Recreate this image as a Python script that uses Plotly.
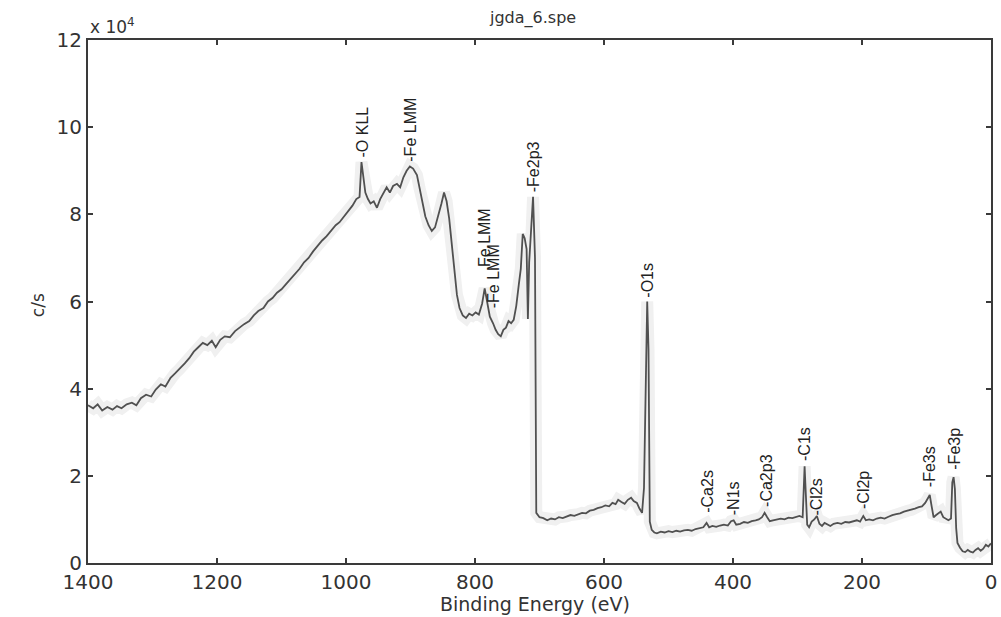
import plotly.graph_objects as go

# Binding energy (eV) and intensity (units of 1e4 c/s)
energy = [1400, 1392, 1385, 1378, 1370, 1362, 1355, 1348, 1340, 1332, 1325, 1318, 1310, 1302, 1295,
          1287, 1280, 1272, 1265, 1258, 1250, 1243, 1236, 1229, 1222, 1215, 1208, 1202, 1195, 1188,
          1180, 1172, 1165, 1158, 1150, 1143, 1136, 1128, 1121, 1114, 1107, 1100, 1093, 1086, 1079,
          1072, 1065, 1058, 1051, 1044, 1037, 1030, 1023, 1016, 1010, 1003, 996, 990, 984, 979,
          976, 973, 970, 966, 962, 957, 952, 947, 942, 937, 932, 927, 921, 916, 911,
          906, 901, 896, 890, 886, 881, 877, 872, 867, 862, 857, 852, 848, 844, 840,
          836, 832, 828, 824, 819, 814, 809, 804, 799, 794, 789, 785, 781, 777, 772,
          768, 764, 760, 756, 752, 748, 744, 740, 736, 732, 729, 726, 723, 720, 718,
          716, 713, 710, 707, 705, 700, 694, 688, 682, 676, 670, 664, 658, 652, 646,
          640, 634, 628, 622, 616, 610, 604, 598, 592, 587, 582, 578, 573, 568, 563,
          558, 554, 549, 545, 541, 538, 533, 531, 529, 526, 522, 518, 512, 506, 500,
          494, 488, 482, 476, 470, 464, 458, 452, 446, 441, 437, 432, 426, 420, 414,
          408, 403, 399, 395, 389, 383, 377, 371, 365, 360, 355, 351, 347, 343, 338,
          332, 326, 320, 314, 308, 302, 297, 292, 289, 287, 285, 282, 278, 274, 270,
          266, 262, 258, 254, 249, 244, 238, 232, 226, 220, 214, 208, 203, 198, 194,
          189, 183, 177, 171, 165, 159, 153, 147, 141, 135, 129, 123, 118, 112, 107,
          102, 98, 95, 92, 89, 85, 81, 78, 74, 70, 66, 62, 60, 58, 56,
          54, 52, 48, 44, 40, 36, 32, 28, 24, 20, 16, 12, 8, 4, 0]

counts_1e4 = [3.62, 3.55, 3.64, 3.50, 3.58, 3.52, 3.60, 3.55, 3.64, 3.68, 3.62, 3.78, 3.86, 3.82, 3.98,
              4.10, 4.05, 4.25, 4.35, 4.45, 4.58, 4.70, 4.85, 4.95, 5.05, 5.00, 5.10, 4.95, 5.12, 5.20,
              5.18, 5.32, 5.40, 5.48, 5.55, 5.68, 5.78, 5.85, 6.00, 6.08, 6.20, 6.28, 6.40, 6.52, 6.62,
              6.75, 6.90, 7.00, 7.15, 7.28, 7.40, 7.50, 7.62, 7.75, 7.82, 7.95, 8.10, 8.20, 8.35, 8.40,
              9.20, 8.80, 8.50, 8.35, 8.25, 8.30, 8.15, 8.35, 8.50, 8.62, 8.50, 8.65, 8.70, 8.62, 8.85,
              9.00, 9.10, 9.05, 8.90, 8.60, 8.25, 7.95, 7.75, 7.62, 7.70, 7.95, 8.25, 8.50, 8.30, 7.90,
              7.30, 6.70, 6.15, 5.85, 5.68, 5.62, 5.72, 5.68, 5.75, 5.70, 5.95, 6.30, 6.00, 5.65, 5.50,
              5.35, 5.25, 5.20, 5.35, 5.40, 5.55, 5.50, 5.58, 5.90, 6.40, 6.75, 7.55, 7.45, 7.20, 5.60,
              6.90, 7.70, 8.40, 7.00, 1.15, 1.05, 1.03, 0.98, 1.02, 1.00, 1.05, 1.03, 1.07, 1.10, 1.08,
              1.12, 1.15, 1.14, 1.20, 1.22, 1.26, 1.28, 1.32, 1.30, 1.38, 1.35, 1.45, 1.40, 1.36, 1.45,
              1.50, 1.42, 1.38, 1.25, 1.15, 1.72, 6.00, 4.90, 0.95, 0.76, 0.70, 0.68, 0.72, 0.70, 0.73,
              0.71, 0.74, 0.72, 0.75, 0.76, 0.74, 0.78, 0.80, 0.82, 0.92, 0.82, 0.85, 0.83, 0.86, 0.88,
              0.86, 0.96, 0.98, 0.88, 0.90, 0.94, 0.92, 0.96, 0.98, 1.00, 1.05, 1.15, 1.05, 0.96, 0.98,
              1.00, 1.02, 1.00, 1.04, 1.03, 1.06, 1.08, 1.05, 2.22, 1.55, 0.88, 0.82, 0.95, 1.00, 1.08,
              0.90, 0.85, 0.92, 0.88, 0.85, 0.90, 0.92, 0.90, 0.94, 0.93, 0.96, 0.98, 0.95, 1.08, 0.98,
              1.00, 0.98, 1.02, 1.04, 1.02, 1.06, 1.10, 1.12, 1.14, 1.18, 1.20, 1.22, 1.25, 1.28, 1.30,
              1.38, 1.48, 1.56, 1.30, 1.05, 1.10, 1.15, 1.18, 1.05, 1.02, 0.98, 1.02, 1.85, 1.97, 1.70,
              0.80, 0.46, 0.35, 0.27, 0.25, 0.30, 0.26, 0.24, 0.30, 0.34, 0.28, 0.33, 0.42, 0.38, 0.45]

# Peak labels: text, energy position, base height of label (1e4 c/s)
peak_labels = ["-O KLL", "-Fe LMM", "Fe LMM", "-Fe LMM", "-Fe2p3", "-O1s", "-Ca2s", "-N1s",
               "-Ca2p3", "-C1s", "-Cl2s", "-Cl2p", "-Fe3s", "-Fe3p"]
peak_energy = [975, 900, 785, 772, 710, 532, 440, 400, 349, 288, 270, 198, 95, 57]
peak_base = [9.25, 9.15, 6.75, 5.8, 8.45, 6.05, 1.1, 1.05, 1.25, 2.3, 1.05, 1.2, 1.7, 2.1]

x_ticks = [1400, 1200, 1000, 800, 600, 400, 200, 0]
y_ticks = [0, 2, 4, 6, 8, 10, 12]

TXT = "#333333"

fig = go.Figure()
fig.add_trace(go.Scatter(x=energy, y=counts_1e4, mode="lines",
                         line=dict(color="#f0f0f0", width=12), hoverinfo="skip", showlegend=False))
fig.add_trace(go.Scatter(x=energy, y=counts_1e4, mode="lines",
                         line=dict(color="#505050", width=1.8), showlegend=False))

for t, e, b in zip(peak_labels, peak_energy, peak_base):
    fig.add_annotation(x=e, y=b, text=t, textangle=-90, showarrow=False,
                       xanchor="center", yanchor="bottom",
                       font=dict(family="Liberation Sans", size=16, color="#222222"))

# exponent marker
fig.add_annotation(x=0, y=1.0, xref="paper", yref="paper", text="x 10<sup>4</sup>",
                   showarrow=False, xanchor="left", yanchor="bottom", yshift=1,
                   font=dict(family="DejaVu Sans", size=17, color=TXT))
# title
fig.add_annotation(x=0.4917, y=1.042, xref="paper", yref="paper", text="jgda_6.spe",
                   showarrow=False, xanchor="center", yanchor="middle",
                   font=dict(family="DejaVu Sans", size=16, color=TXT))
# axis titles
fig.add_annotation(x=0.4945, y=-0.079, xref="paper", yref="paper", text="Binding Energy (eV)",
                   showarrow=False, xanchor="center", yanchor="middle",
                   font=dict(family="DejaVu Sans", size=19, color=TXT))
fig.add_annotation(x=-0.0554, y=0.493, xref="paper", yref="paper", text="c/s", textangle=-90,
                   showarrow=False, xanchor="center", yanchor="middle",
                   font=dict(family="DejaVu Sans", size=17, color=TXT))

axis_common = dict(showgrid=False, zeroline=False, showline=True, linecolor="#3a3a3a",
                   linewidth=2, mirror="ticks", ticks="inside", ticklen=5, tickwidth=1.5,
                   tickcolor="#3a3a3a", automargin=False,
                   tickfont=dict(family="DejaVu Sans", size=20, color=TXT))

fig.update_layout(
    width=1001, height=617,
    margin=dict(l=88, r=10, t=40, b=54, autoexpand=False),
    paper_bgcolor="white", plot_bgcolor="white",
    xaxis=dict(range=[1400, 0], tickvals=x_ticks, **axis_common),
    yaxis=dict(range=[0, 12], tickvals=y_ticks, **axis_common),
)

# remove the default page margin so the 1001x617 figure fills the window exactly
fig.write_html("out.html", config={"displayModeBar": False},
               post_script="document.body.style.margin='0';document.body.style.overflow='hidden';")
